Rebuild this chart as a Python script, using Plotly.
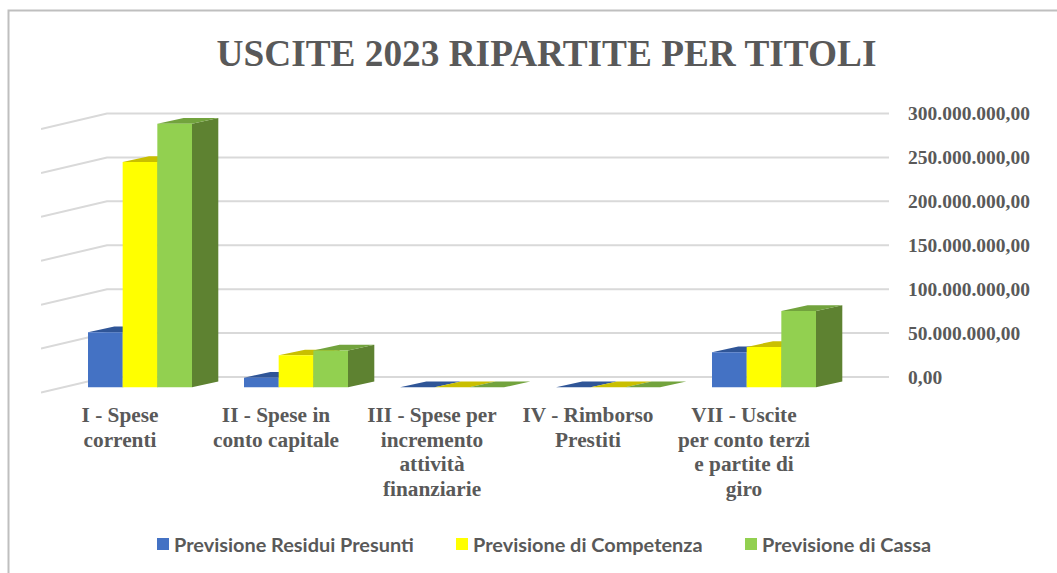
import plotly.graph_objects as go

categories = ["I - Spese<br>correnti", "II - Spese in<br>conto capitale",
              "III - Spese per<br>incremento<br>attività<br>finanziarie",
              "IV - Rimborso<br>Prestiti", "VII - Uscite<br>per conto terzi<br>e partite di<br>giro"]
residui = [62600000, 11000000, 0, 0, 40000000]
competenza = [256500000, 36400000, 0, 0, 46000000]
cassa = [300000000, 42000000, 0, 0, 87000000]
series_names = ["Previsione Residui Presunti", "Previsione di Competenza", "Previsione di Cassa"]
front_colors = ["#4472C4", "#FFFF00", "#92D050"]
top_colors = ["#2F5597", "#C9BF00", "#72A33D"]
side_colors = ["#2F5597", "#A8A000", "#5E8231"]
tick_values = [0, 50000000, 100000000, 150000000, 200000000, 250000000, 300000000]
tick_labels = ["0,00", "50.000.000,00", "100.000.000,00", "150.000.000,00",
               "200.000.000,00", "250.000.000,00", "300.000.000,00"]

W, H = 1057, 573
L, R, T, B = 41, 889, 100, 400
CAT_PX = 156.0
X0_PX = 140.0
BASE_PX = 387.3
UNIT = 263.5 / 300e6          # pixels per value unit
BAR_W = 104.0 / 3 / CAT_PX
DX = 26.3 / CAT_PX
DY = 5.7 / UNIT
BACK = 10.3 / UNIT            # rear wall zero above bar base
FRONT = -5.2 / UNIT           # front edge of floor below bar base
WALL_X = (107 - X0_PX) / CAT_PX
LABEL_SHIFT = -20 / CAT_PX
xr = [(L - X0_PX) / CAT_PX, (R - X0_PX) / CAT_PX]
yr = [(BASE_PX - B) / UNIT, (BASE_PX - T) / UNIT]
xs = list(range(len(categories)))

shapes = []
for v in tick_values:
    shapes.append(dict(type="path", layer="below", xref="x", yref="y",
                       path=f"M{xr[0]},{v + FRONT} L{WALL_X},{v + BACK} L{xr[1]},{v + BACK}",
                       line=dict(color="#D9D9D9", width=2)))

all_values = [residui, competenza, cassa]
for s, vals in enumerate(all_values):
    for i, v in enumerate(vals):
        x0 = i + (s - 1.5) * BAR_W
        x1 = x0 + BAR_W
        shapes.append(dict(type="path", layer="below", xref="x", yref="y",
                           path=f"M{x1},0 L{x1 + DX},{DY} L{x1 + DX},{v + DY} L{x1},{v} Z",
                           fillcolor=side_colors[s], line=dict(width=0)))
        shapes.append(dict(type="path", layer="below", xref="x", yref="y",
                           path=f"M{x0},{v} L{x1},{v} L{x1 + DX},{v + DY} L{x0 + DX},{v + DY} Z",
                           fillcolor=top_colors[s], line=dict(width=0)))

px = lambda p: (p - L) / (R - L)
py = lambda p: (B - p) / (B - T)
shapes.append(dict(type="path", xref="paper", yref="paper", layer="below",
                   path=f"M{px(8.5)},{py(573)} L{px(8.5)},{py(10.5)} L{px(1057)},{py(10.5)}",
                   line=dict(color="#BFBFBF", width=2)))

legend_ids = ["legend", "legend2", "legend3"]
legend_left = [134, 433, 722]
fig = go.Figure()
for s, vals in enumerate(all_values):
    fig.add_trace(go.Bar(x=xs, y=vals, name=f"<b>{series_names[s]}</b>", legend=legend_ids[s],
                         marker=dict(color=front_colors[s], line=dict(width=0))))

serif = "Liberation Serif"
legends = {lid: dict(x=px(legend_left[k]), xanchor="left", y=py(544), yanchor="middle",
                     font=dict(family="Lato", size=19.9, color="#595959"),
                     bgcolor="rgba(0,0,0,0)")
           for k, lid in enumerate(legend_ids)}
fig.update_layout(
    width=W, height=H, margin=dict(l=L, r=W - R, t=T, b=H - B, autoexpand=False),
    paper_bgcolor="white", plot_bgcolor="rgba(0,0,0,0)",
    barmode="group", bargap=1 - 3 * BAR_W, bargroupgap=0, shapes=shapes,
    title=dict(text="<b>USCITE 2023 RIPARTITE PER TITOLI</b>", xref="container", yref="container",
               x=546.5 / W, xanchor="center", y=1 - 53 / H, yanchor="middle",
               font=dict(family=serif, size=37.3, color="#595959")),
    xaxis=dict(range=xr, tickmode="array", tickvals=[i + LABEL_SHIFT for i in xs],
               ticktext=[f"<b>{c.replace('<br>', '</b><br><b>')}</b>" for c in categories],
               tickangle=0, showgrid=False, zeroline=False, showline=False, ticks="",
               tickfont=dict(family=serif, size=21.3, color="#595959")),
    yaxis=dict(range=yr, side="right", tickmode="array", tickvals=[v + BACK for v in tick_values],
               ticktext=[f"<b>{t}</b>" for t in tick_labels], showgrid=False, zeroline=False,
               showline=False, ticks="", ticklabelstandoff=18,
               tickfont=dict(family=serif, size=19.5, color="#595959")),
    showlegend=True,
    **legends,
)

post = """
document.body.style.margin='0';document.body.style.overflow='hidden';
var gd=document.getElementById('{plot_id}');
function tune(){
  document.querySelectorAll('.xtick tspan.line').forEach(function(t){
    var d=parseFloat(t.getAttribute('dy')||'0');
    if(!t.dataset.tuned){t.setAttribute('dy',(d/1.3*1.15)+'em');t.dataset.tuned='1';}
  });
  document.querySelectorAll('.legendsymbols').forEach(function(s){s.setAttribute('transform','translate(9,0)');});
}
tune();
if(gd&&gd.on){gd.on('plotly_afterplot',tune);}
"""
fig.write_html("out.html", post_script=post, config=dict(displayModeBar=False))
